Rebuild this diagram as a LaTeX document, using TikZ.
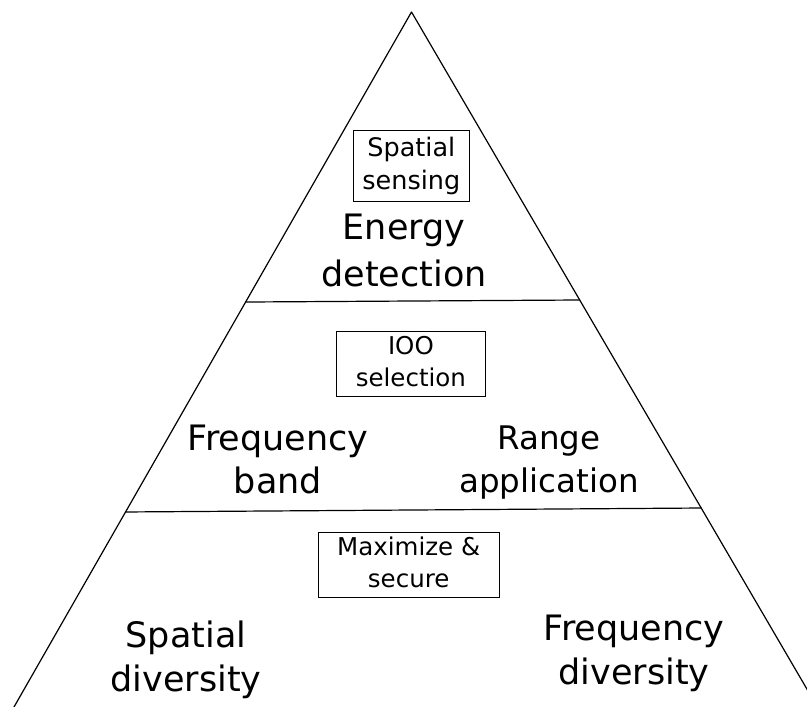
\documentclass[tikz,border=0pt]{standalone}
\usepackage{fontspec}
\setmainfont{DejaVu Sans}
\usetikzlibrary{calc}
% two centred lines, baseline at the first line
\newcommand{\pairtop}[2]{\begin{tabular}[t]{@{}c@{}}#1\\#2\end{tabular}}
\newcommand{\pairmid}[2]{\begin{tabular}{@{}c@{}}#1\\#2\end{tabular}}
\begin{document}
\begin{tikzpicture}[x=1pt,y=1pt,
  edge/.style={line width=1.2pt, line cap=round, line join=round},
  tag/.style={draw, line width=1pt, inner sep=0pt,
    font=\fontsize{24.5}{32}\selectfont},
  level/.style={inner sep=0pt, anchor=base},
]
\useasboundingbox (0,0) rectangle (807,707);
\clip (0,0) rectangle (807,707);

% pyramid outline
\coordinate (apex) at (411.5,695);
\coordinate (bl) at (14,0);
\coordinate (br) at (817.4,0);
\draw[edge] (bl) -- (apex) -- (br);

% tier dividers
\coordinate (d1l) at ($(apex)!0.4173!(bl)$);
\coordinate (d1r) at ($(apex)!0.4144!(br)$);
\coordinate (d2l) at ($(apex)!0.7194!(bl)$);
\coordinate (d2r) at ($(apex)!0.7137!(br)$);
\draw[edge] (d1l) -- (d1r);
\draw[edge] (d2l) -- (d2r);

% top tier
\node[tag, minimum width=116pt, minimum height=71pt,
  font=\fontsize{25.5}{33.5}\selectfont] (sensing)
  at (411.3,540.8) {\pairmid{Spatial}{sensing}};
\node[level, font=\fontsize{35}{47}\selectfont] (energy)
  at (404,467) {\pairtop{Energy}{detection}};

% middle tier
\node[tag, minimum width=149.7pt, minimum height=64.3pt] (ioo)
  at (410.9,343.1) {\pairmid{IOO}{selection}};
\node[level, font=\fontsize{35}{43}\selectfont] (band)
  at (278,256) {\pairtop{Frequency}{band}};
\node[level, font=\fontsize{32.5}{43.7}\selectfont] (range)
  at (549,257.7) {\pairtop{Range}{application}};

% bottom tier
\node[tag, minimum width=180.7pt, minimum height=64.3pt] (secure)
  at (408.7,142.1) {\pairmid{Maximize \&}{secure}};
\node[level, font=\fontsize{35}{43.7}\selectfont] (spatial)
  at (186,59) {\pairtop{Spatial}{diversity}};
\node[level, font=\fontsize{35}{44}\selectfont] (freqdiv)
  at (634,66) {\pairtop{Frequency}{diversity}};
\end{tikzpicture}
\end{document}
